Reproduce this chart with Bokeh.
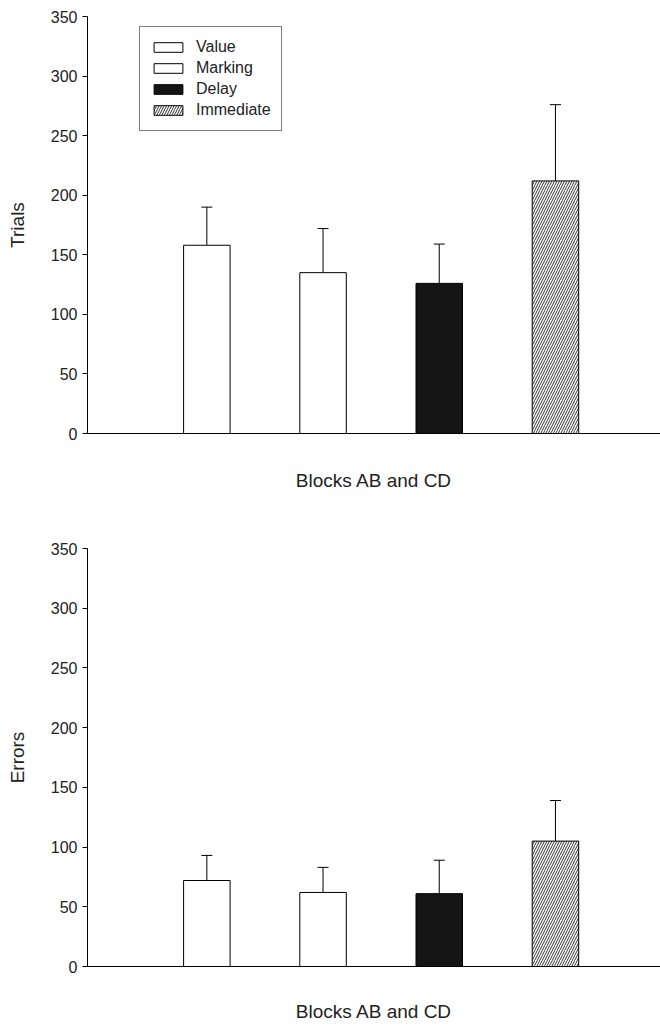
from bokeh.plotting import figure
from bokeh.models import (ColumnDataSource, Range1d, FixedTicker, Whisker, TeeHead)
from bokeh.layouts import column
from bokeh.embed import file_html
from bokeh.resources import INLINE

# ---- data ----
categories = ["Value", "Marking", "Delay", "Immediate"]
positions = [1, 2, 3, 4]
trials_mean = [158, 135, 126, 212]
trials_err = [32, 37, 33, 64]
errors_mean = [72, 62, 61, 105]
errors_err = [21, 21, 28, 34]
y_ticks = [0, 50, 100, 150, 200, 250, 300, 350]

# ---- styles ----
fill_colors = ["white", "white", "#151515", "white"]
hatches = [" ", " ", " ", "/"]

FONT = "Liberation Sans"
X_START = -0.027
X_END = 4.904


def make_panel(means, errs, ylabel, height, top_border, bottom_border, legend, xstand):
    p = figure(width=660, height=height, output_backend="svg", toolbar_location=None,
               x_range=Range1d(X_START, X_END), y_range=Range1d(0, 350),
               min_border_left=87, min_border_right=0,
               min_border_top=top_border, min_border_bottom=bottom_border)
    p.outline_line_color = None
    p.grid.visible = False

    src = ColumnDataSource(dict(x=positions, top=means, cat=categories,
                                fill=fill_colors, hatch=hatches,
                                upper=[m + e for m, e in zip(means, errs)]))
    kw = dict(x="x", top="top", bottom=0, width=0.4, source=src,
              fill_color="fill", line_color="black", line_width=1,
              hatch_pattern="hatch", hatch_color="#333333", hatch_scale=5,
              hatch_weight=1)
    if legend:
        kw["legend_field"] = "cat"
    p.vbar(**kw)

    w = Whisker(base="x", lower="top", upper="upper", source=src,
                line_color="black", line_width=1,
                upper_head=TeeHead(size=11, line_color="black", line_width=1),
                lower_head=None)
    p.add_layout(w)

    # y axis
    ya = p.yaxis[0]
    ya.ticker = FixedTicker(ticks=y_ticks)
    ya.minor_tick_line_color = None
    ya.major_tick_out = 5
    ya.major_tick_in = 0
    ya.major_label_standoff = 5
    ya.major_label_text_font = FONT
    ya.major_label_text_font_size = "16px"
    ya.major_label_text_color = "#222222"
    ya.axis_line_color = "black"
    ya.major_tick_line_color = "black"
    ya.axis_label = ylabel
    ya.axis_label_text_font = FONT
    ya.axis_label_text_font_size = "19px"
    ya.axis_label_text_font_style = "normal"
    ya.axis_label_text_color = "#222222"
    ya.axis_label_standoff = 20

    # x axis
    xa = p.xaxis[0]
    xa.ticker = FixedTicker(ticks=[])
    xa.minor_tick_line_color = None
    xa.major_tick_out = 0
    xa.major_tick_in = 0
    xa.major_label_text_font_size = "0px"
    xa.axis_line_color = "black"
    xa.axis_label = "Blocks AB and CD"
    xa.axis_label_text_font = FONT
    xa.axis_label_text_font_size = "19px"
    xa.axis_label_text_font_style = "normal"
    xa.axis_label_text_color = "#222222"
    xa.axis_label_standoff = xstand

    if legend:
        lg = p.legend[0]
        lg.location = (52, 302)
        lg.glyph_width = 36
        lg.glyph_height = 12
        lg.label_standoff = 10
        lg.label_height = 20
        lg.spacing = 1
        lg.padding = 10
        lg.margin = 0
        lg.label_text_font = FONT
        lg.label_text_font_size = "16px"
        lg.label_text_color = "#222222"
        lg.border_line_color = "black"
        lg.border_line_width = 1
        lg.background_fill_alpha = 1
    return p


p1 = make_panel(trials_mean, trials_err, "Trials", 520, 16, 87, True, 36)
p2 = make_panel(errors_mean, errors_err, "Errors", 504, 28, 57, False, 34)

layout = column(p1, p2, spacing=0)
open("out.html", "w").write(file_html(layout, INLINE))
